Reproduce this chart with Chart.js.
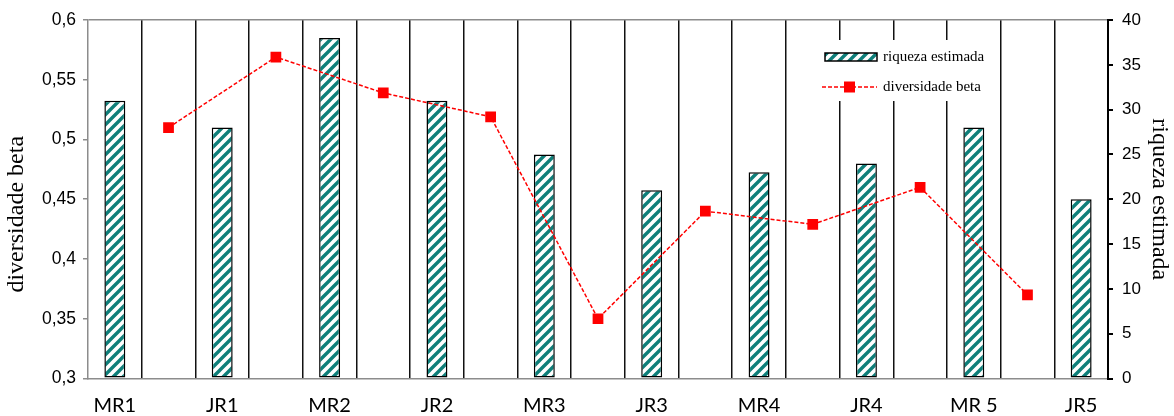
<!DOCTYPE html>
<html>
<head>
<meta charset="utf-8">
<script src="https://cdn.jsdelivr.net/npm/chart.js@4/dist/chart.umd.min.js"></script>
<style>
  html, body { margin: 0; padding: 0; background: #fff; }
  #wrap { width: 1174px; height: 416px; position: relative; }
</style>
</head>
<body>
<div id="wrap"><canvas id="c"></canvas></div>
<script>
// Sampling sites (one bar each)
const sites = ['MR1', 'JR1', 'MR2', 'JR2', 'MR3', 'JR3', 'MR4', 'JR4', 'MR 5', 'JR5'];
// Estimated richness per site (right axis)
const riqueza = [31, 28, 38, 31, 25, 21, 23, 24, 28, 20];
// Beta diversity between consecutive sites (left axis)
const diversidadeBeta = [0.51, 0.569, 0.539, 0.519, 0.35, 0.44, 0.429, 0.46, 0.37];
// Left axis ticks
const leftTickValues = [0.3, 0.35, 0.4, 0.45, 0.5, 0.55, 0.6];
const leftTickLabels = ['0,3', '0,35', '0,4', '0,45', '0,5', '0,55', '0,6'];
// Right axis ticks
const rightTickValues = [0, 5, 10, 15, 20, 25, 30, 35, 40];
// Axis titles
const leftTitle = 'diversidade beta';
const rightTitle = 'riqueza estimada';

// Sites occupy even slots, the transitions between them the odd slots
const slotLabels = [];
const barData = [];
const lineData = [];
sites.forEach((s, i) => {
  slotLabels.push(s); barData.push(riqueza[i]); lineData.push(null);
  if (i < diversidadeBeta.length) {
    slotLabels.push(''); barData.push(null); lineData.push(diversidadeBeta[i]);
  }
});

// Diagonal teal hatch fill
function makeHatch() {
  const t = document.createElement('canvas');
  t.width = 10; t.height = 10;
  const g = t.getContext('2d');
  g.fillStyle = '#ffffff';
  g.fillRect(0, 0, 10, 10);
  g.strokeStyle = '#0f7f7a';
  g.lineWidth = 3.4;
  g.beginPath();
  g.moveTo(-2, 2); g.lineTo(2, -2);
  g.moveTo(0, 10); g.lineTo(10, 0);
  g.moveTo(8, 12); g.lineTo(12, 8);
  g.stroke();
  return g.createPattern(t, 'repeat');
}
const hatch = makeHatch();

const GREY = '#8c8c8c';
const CLEAR = 'rgba(0,0,0,0)';

// Left axis title, set a little below the middle of the axis
const leftAxisTitle = {
  id: 'leftAxisTitle',
  afterDraw(chart) {
    const ctx = chart.ctx;
    const area = chart.chartArea;
    ctx.save();
    ctx.translate(17, (area.top + area.bottom) / 2 + 15);
    ctx.rotate(-Math.PI / 2);
    ctx.fillStyle = '#000';
    ctx.font = '24px "Liberation Serif", serif';
    ctx.textAlign = 'center';
    ctx.textBaseline = 'middle';
    ctx.fillText(leftTitle, 0, 0);
    ctx.restore();
  }
};

// Legend box placed inside the plot area
const boxLegend = {
  id: 'boxLegend',
  afterDatasetsDraw(chart) {
    const ctx = chart.ctx;
    const bar = chart.data.datasets[1];
    const line = chart.data.datasets[0];
    ctx.save();
    ctx.fillStyle = '#fff';
    ctx.fillRect(805, 40, 190, 61);
    // bar swatch
    ctx.fillStyle = bar.backgroundColor;
    ctx.fillRect(825, 53, 52, 8);
    ctx.strokeStyle = bar.borderColor;
    ctx.lineWidth = 1.5;
    ctx.strokeRect(825, 53, 52, 8);
    // line swatch
    ctx.strokeStyle = line.borderColor;
    ctx.lineWidth = line.borderWidth;
    ctx.setLineDash(line.borderDash);
    ctx.beginPath();
    ctx.moveTo(822, 87); ctx.lineTo(877, 87);
    ctx.stroke();
    ctx.setLineDash([]);
    ctx.fillStyle = line.pointBackgroundColor;
    ctx.fillRect(844, 81.5, 11, 11);
    // texts
    ctx.fillStyle = '#000';
    ctx.font = '15px "Liberation Serif", serif';
    ctx.textAlign = 'left';
    ctx.textBaseline = 'middle';
    ctx.fillText(bar.label, 883, 57);
    ctx.fillText(line.label, 883, 87);
    ctx.restore();
  }
};

new Chart(document.getElementById('c'), {
  type: 'bar',
  data: {
    labels: slotLabels,
    datasets: [
      {
        type: 'line',
        label: 'diversidade beta',
        data: lineData,
        yAxisID: 'y',
        order: 0,
        spanGaps: true,
        borderColor: '#ff0000',
        borderWidth: 1.5,
        borderDash: [4, 2],
        tension: 0,
        pointStyle: 'rect',
        pointRadius: 7.6,
        pointBorderWidth: 0,
        pointBackgroundColor: '#ff0000',
        pointBorderColor: '#ff0000'
      },
      {
        type: 'bar',
        label: 'riqueza estimada',
        data: barData,
        yAxisID: 'y2',
        order: 1,
        backgroundColor: hatch,
        borderColor: '#000',
        borderWidth: 1.5,
        borderSkipped: false,
        barPercentage: 0.39,
        categoryPercentage: 1.0
      }
    ]
  },
  options: {
    responsive: true,
    maintainAspectRatio: false,
    animation: false,
    devicePixelRatio: 1,
    layout: { padding: { top: 20, left: 0, right: 0, bottom: 0 } },
    plugins: { legend: { display: false }, tooltip: { enabled: false } },
    scales: {
      x: {
        offset: true,
        grid: {
          offset: true,
          drawTicks: false,
          lineWidth: 1.5,
          color: (c) => (c.index === 0 || c.index === slotLabels.length) ? CLEAR : '#111'
        },
        border: { display: true, color: GREY, width: 1.5 },
        ticks: {
          autoSkip: false,
          maxRotation: 0,
          padding: 15,
          color: '#000',
          font: { family: 'Lato, "Open Sans", sans-serif', size: 20 }
        },
        afterFit: (s) => { s.height = 37.5; }
      },
      y: {
        position: 'left',
        min: 0.3,
        max: 0.6,
        afterBuildTicks: (s) => { s.ticks = leftTickValues.map(v => ({ value: v })); },
        grid: {
          drawTicks: true,
          tickLength: 5,
          tickColor: GREY,
          lineWidth: 1.5,
          color: (c) => (c.tick && c.tick.value === 0.6) ? GREY : CLEAR
        },
        border: { display: true, color: GREY, width: 1.5 },
        ticks: {
          padding: 7,
          color: '#000',
          font: { family: '"Liberation Sans", Arial, sans-serif', size: 17.5 },
          callback: (v, i) => leftTickLabels[i]
        },
        afterFit: (s) => { s.width = 88; }
      },
      y2: {
        position: 'right',
        min: 0,
        max: 40,
        afterBuildTicks: (s) => { s.ticks = rightTickValues.map(v => ({ value: v })); },
        grid: {
          drawOnChartArea: false,
          drawTicks: true,
          tickLength: 5,
          tickColor: '#000',
          lineWidth: 2
        },
        border: { display: true, color: '#000', width: 2 },
        ticks: {
          padding: 9,
          color: '#000',
          font: { family: '"Liberation Sans", Arial, sans-serif', size: 17 }
        },
        title: {
          display: true,
          text: rightTitle,
          color: '#000',
          padding: { top: 0, bottom: 0 },
          font: { family: '"Liberation Serif", serif', size: 24 }
        },
        afterFit: (s) => { s.width = 66; }
      }
    }
  },
  plugins: [boxLegend, leftAxisTitle]
});
</script>
</body>
</html>
